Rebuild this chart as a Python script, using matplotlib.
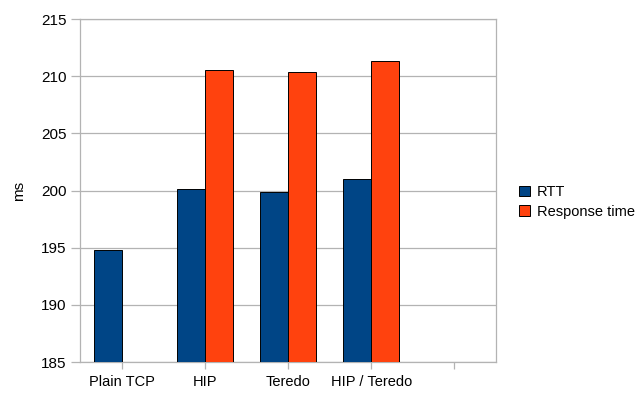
import numpy as np
import matplotlib
matplotlib.use("Agg")
import matplotlib.pyplot as plt
from matplotlib.patches import Patch

# data
categories = ["Plain TCP", "HIP", "Teredo", "HIP / Teredo", ""]
rtt = [194.8, 200.1, 199.9, 201.0, np.nan]
response = [np.nan, 210.5, 210.4, 211.3, np.nan]

plt.rcParams["font.family"] = ["Liberation Sans", "DejaVu Sans"]
plt.rcParams["font.size"] = 10

BLUE = "#004586"
ORANGE = "#ff420e"
GRID = "#b3b3b3"

fig = plt.figure(figsize=(6.4, 3.93), dpi=100)
ax = fig.add_axes([80 / 640, 31 / 393, 416 / 640, 343 / 393])

x = np.arange(len(categories))
w = 0.336
ax.bar(x - w / 2, rtt, w, color=BLUE, edgecolor="black", lw=0.7, zorder=3)
ax.bar(x + w / 2, response, w, color=ORANGE, edgecolor="black", lw=0.7, zorder=3)

ax.set_ylim(185, 215)
ax.set_yticks(np.arange(185, 216, 5))
ax.set_xlim(-0.5, len(categories) - 0.5)
ax.set_xticks(x)
ax.set_xticklabels(categories)
ax.yaxis.grid(True, color=GRID, lw=0.9, zorder=0)
for s in ax.spines.values():
    s.set_color(GRID)
    s.set_linewidth(0.9)
ax.tick_params(axis="y", length=6.5, color=GRID, width=0.9, pad=3, labelsize=11)
ax.tick_params(axis="x", length=5, color=GRID, width=0.9, pad=4, labelsize=10.5)
ax.set_ylabel("ms", fontsize=11, labelpad=11)

handles = [Patch(facecolor=BLUE, edgecolor="black", lw=0.7, label="RTT"),
           Patch(facecolor=ORANGE, edgecolor="black", lw=0.7, label="Response time")]
fig.legend(handles=handles, loc="center left", bbox_to_anchor=(512 / 640, 1 - 202 / 393),
           frameon=False, fontsize=10.5, handlelength=0.75, handleheight=0.75,
           handletextpad=0.45, labelspacing=0.4, borderpad=0)

fig.savefig("out.png", dpi=100)
